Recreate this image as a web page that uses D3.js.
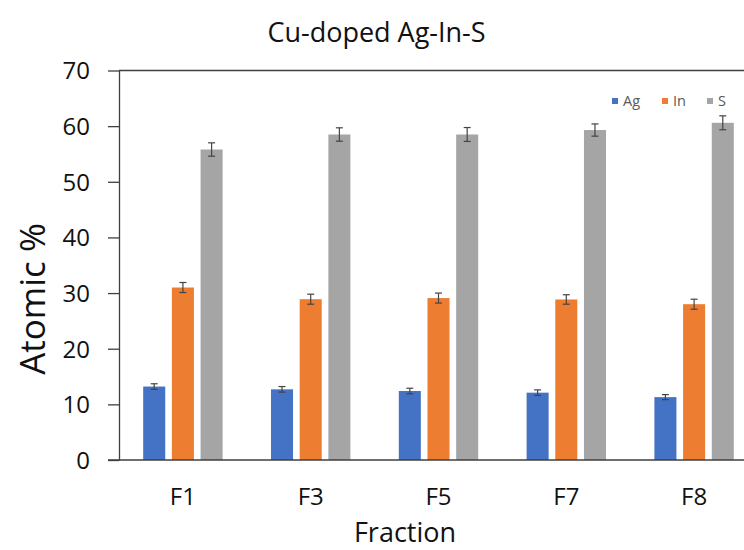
<!DOCTYPE html>
<html>
<head>
<meta charset="utf-8">
<script src="https://cdn.jsdelivr.net/npm/d3@7"></script>
<style>
  html, body { margin: 0; padding: 0; background: #fff; }
  svg { display: block; font-family: "Open Sans", "Noto Sans", sans-serif; }
</style>
</head>
<body>
<svg id="chart" width="744" height="550"></svg>
<script>
const categories = ["F1", "F3", "F5", "F7", "F8"];
const seriesNames = ["Ag", "In", "S"];
const agValues = [13.2, 12.7, 12.4, 12.1, 11.3];
const inValues = [31.0, 28.9, 29.1, 28.85, 28.0];
const sValues  = [55.8, 58.5, 58.5, 59.3, 60.6];
const agErrors = [0.5, 0.5, 0.5, 0.5, 0.45];
const inErrors = [0.9, 0.9, 0.9, 0.85, 0.9];
const sErrors  = [1.2, 1.2, 1.25, 1.1, 1.25];
const yTicks = [0, 10, 20, 30, 40, 50, 60, 70];
const colors = ["#4472C4", "#ED7D31", "#A5A5A5"];

const valuesBySeries = [agValues, inValues, sValues];
const errorsBySeries = [agErrors, inErrors, sErrors];

const svg = d3.select("#chart");
const plotLeft = 119, plotBottom = 460, plotTop = 70.5, bandStep = 127.8;
const plotRight = plotLeft + bandStep * categories.length;

const x = d3.scaleBand().domain(categories).range([plotLeft, plotRight]).padding(0);
const xs = d3.scaleBand().domain(seriesNames)
  .range([x.bandwidth() / 2 - 39.7, x.bandwidth() / 2 + 39.7])
  .paddingInner(0.232).paddingOuter(0);
const y = d3.scaleLinear().domain([0, 70]).range([plotBottom, plotTop]);

const axisColor = "#3f3f3f";

// Y axis
const yAxis = svg.append("g").attr("transform", `translate(${plotLeft},0)`)
  .call(d3.axisLeft(y).tickValues(yTicks).tickSize(11).tickPadding(18).tickSizeOuter(0));
yAxis.select(".domain").attr("stroke", axisColor).attr("stroke-width", 1.3);
yAxis.selectAll(".tick line").attr("stroke", axisColor).attr("stroke-width", 1.3);
yAxis.selectAll(".tick text").attr("font-size", "24px").attr("fill", "#111")
  .attr("font-family", "'Open Sans', sans-serif").attr("dy", "0.35em");

// top border line
svg.append("line").attr("x1", plotLeft).attr("x2", plotRight).attr("y1", y(70)).attr("y2", y(70))
  .attr("stroke", axisColor).attr("stroke-width", 1.3);

// Bars
const rows = [];
categories.forEach((c, i) => {
  seriesNames.forEach((s, j) => {
    rows.push({ cat: c, ser: s, j: j, v: valuesBySeries[j][i], e: errorsBySeries[j][i] });
  });
});

svg.append("g").selectAll("rect").data(rows).join("rect")
  .attr("x", d => x(d.cat) + xs(d.ser))
  .attr("width", xs.bandwidth())
  .attr("y", d => y(d.v))
  .attr("height", d => y(0) - y(d.v))
  .attr("fill", d => colors[d.j]);

// Error bars
const eg = svg.append("g").attr("stroke", "#444").attr("stroke-width", 1.2);
rows.forEach(d => {
  const cx = x(d.cat) + xs(d.ser) + xs.bandwidth() / 2;
  eg.append("line").attr("x1", cx).attr("x2", cx).attr("y1", y(d.v + d.e)).attr("y2", y(d.v - d.e));
  eg.append("line").attr("x1", cx - 3.5).attr("x2", cx + 3.5).attr("y1", y(d.v + d.e)).attr("y2", y(d.v + d.e));
  eg.append("line").attr("x1", cx - 3.5).attr("x2", cx + 3.5).attr("y1", y(d.v - d.e)).attr("y2", y(d.v - d.e));
});

// X axis
const xAxis = svg.append("g").attr("transform", `translate(0,${plotBottom})`)
  .call(d3.axisBottom(x).tickSize(0).tickPadding(28).tickSizeOuter(0));
xAxis.select(".domain").remove();
xAxis.selectAll(".tick text").attr("font-size", "24px").attr("fill", "#111")
  .attr("font-family", "'Open Sans', sans-serif");
svg.append("line").attr("x1", 108).attr("x2", plotRight).attr("y1", plotBottom).attr("y2", plotBottom)
  .attr("stroke", axisColor).attr("stroke-width", 1.3);

// Title
svg.append("text").attr("x", 376.5).attr("y", 42).attr("text-anchor", "middle")
  .attr("font-size", "27px").attr("fill", "#111").text("Cu-doped Ag-In-S");

// Axis titles
svg.append("text").attr("x", 405).attr("y", 541.5).attr("text-anchor", "middle")
  .attr("font-size", "27px").attr("fill", "#111").text("Fraction");
svg.append("text").attr("transform", "translate(45,299) rotate(-90)").attr("text-anchor", "middle")
  .attr("font-size", "35px").attr("fill", "#111").text("Atomic %");

// Legend
const legendX = [612, 662, 707];
const lg = svg.append("g");
seriesNames.forEach((s, j) => {
  lg.append("rect").attr("x", legendX[j]).attr("y", 98).attr("width", 6).attr("height", 6).attr("fill", colors[j]);
  lg.append("text").attr("x", legendX[j] + 11).attr("y", 106).attr("font-size", "14.5px")
    .attr("fill", "#595959").text(s);
});
</script>
</body>
</html>
